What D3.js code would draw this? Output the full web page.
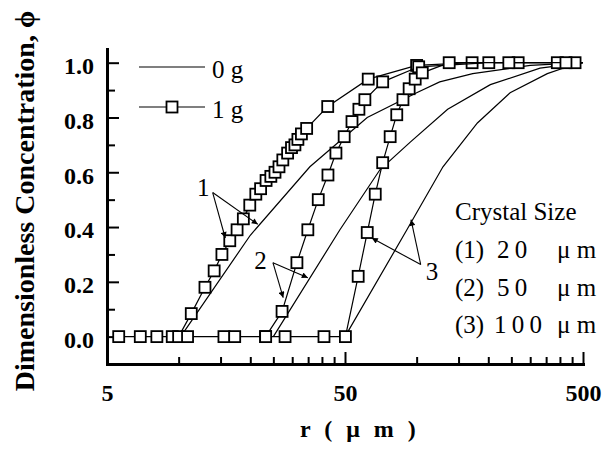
<!DOCTYPE html>
<html>
<head>
<meta charset="utf-8">
<script src="https://cdn.jsdelivr.net/npm/d3@7"></script>
<style>
  html, body { margin: 0; padding: 0; background: #fff; }
  svg { display: block; }
  text { font-family: "Liberation Serif", "Times New Roman", serif; fill: #000; }
</style>
</head>
<body>
<svg id="chart" width="605" height="455"></svg>
<script>
// Crystal radius r (μm) and dimensionless concentration φ, 1 g runs (markers)
const r1g_size1 = [5.6, 6.9, 8.1, 9.4, 10.0, 11.3, 12.9, 14.1, 15.2, 16.4, 17.6, 18.7, 19.9, 21.1, 22.1, 23.3, 24.4, 25.4, 26.4, 27.4, 28.7, 29.8, 30.8, 31.7, 32.8, 34.5, 42.3, 62.6, 100, 171, 267, 463];
const phi1g_size1 = [0, 0, 0, 0, 0, 0.084, 0.18, 0.24, 0.30, 0.35, 0.39, 0.43, 0.48, 0.52, 0.54, 0.57, 0.585, 0.60, 0.62, 0.645, 0.67, 0.69, 0.70, 0.72, 0.74, 0.76, 0.84, 0.94, 0.99, 1.0, 1.0, 1.0];

const r1g_size2 = [10.9, 15.5, 17.2, 23.2, 27.2, 31.4, 34.9, 38.6, 42.4, 45.8, 49.6, 53.5, 57.2, 60.6, 72, 102, 201, 390];
const phi1g_size2 = [0, 0, 0, 0, 0.092, 0.27, 0.39, 0.50, 0.59, 0.67, 0.73, 0.785, 0.83, 0.865, 0.93, 0.985, 1.0, 1.0];

const r1g_size3 = [23.2, 28, 40.8, 50.2, 56.8, 62, 67, 72, 77.4, 82.5, 87.6, 93, 98.6, 105.6, 137, 244, 424];
const phi1g_size3 = [0, 0, 0, 0, 0.22, 0.38, 0.52, 0.635, 0.73, 0.81, 0.865, 0.905, 0.94, 0.963, 1.0, 1.0, 1.0];

// 0 g runs (plain lines)
const r0g_size1 = [10.2, 20, 35.6, 62, 100, 125, 172, 300, 500];
const phi0g_size1 = [0, 0.37, 0.62, 0.80, 0.89, 0.93, 0.96, 0.99, 1.0];
const r0g_size2 = [25, 47.6, 70.2, 94, 135, 204, 330, 500];
const phi0g_size2 = [0, 0.39, 0.61, 0.71, 0.83, 0.92, 0.98, 1.0];
const r0g_size3 = [50, 91, 129, 180, 247, 354, 430, 500];
const phi0g_size3 = [0, 0.39, 0.62, 0.78, 0.89, 0.96, 0.985, 1.0];

// Axis ticks
const xMajorTicks = [5, 50, 500];
const xMinorTicks = [10, 15, 20, 25, 30, 35, 40, 45, 100, 150, 200, 250, 300, 350, 400, 450];
const yMajorTicks = [0, 0.2, 0.4, 0.6, 0.8, 1.0];
const yMinorTicks = [0.1, 0.3, 0.5, 0.7, 0.9];

// Legend / notes text
const legendLabels = ["0 g", "1 g"];
const sizeTitle = "Crystal Size";
const sizeIds = ["(1)", "(2)", "(3)"];
const sizeValues = ["2 0", "5 0", "1 0 0"];
const sizeUnit = "μ m";

// Curve labels with arrow origins and tips in data units [r, φ]
const curveLabels = ["1", "2", "3"];
const labelPos = [[12.7, 0.515], [22.1, 0.248], [116, 0.208]];
const arrowFrom = [[13.9, 0.526], [24.9, 0.27], [104, 0.263]];
const arrowTips = [
  [[15.7, 0.36], [21.5, 0.41]],
  [[27.5, 0.142], [34.9, 0.215]],
  [[64.8, 0.36], [94.7, 0.427]]
];

const svg = d3.select("#chart");
const x = d3.scaleLog().domain([5, 500]).range([107, 583]);
const y = d3.scaleLinear().domain([-0.1, 1.05]).range([364, 49]);

const line = d3.line().x(d => x(d[0])).y(d => y(d[1]));
const zip = (a, b) => a.map((v, i) => [v, b[i]]);

const series1g = [zip(r1g_size1, phi1g_size1), zip(r1g_size2, phi1g_size2), zip(r1g_size3, phi1g_size3)];
const series0g = [zip(r0g_size1, phi0g_size1), zip(r0g_size2, phi0g_size2), zip(r0g_size3, phi0g_size3)];

// Axes
const tickFont = "bold 24px 'Liberation Serif', serif";
const gx = svg.append("g").attr("transform", "translate(0,364)");
gx.call(d3.axisBottom(x).tickValues(xMajorTicks).tickFormat(d3.format("d"))
  .tickSizeInner(-12).tickSizeOuter(0).tickPadding(20));
const gxMinor = svg.append("g").attr("transform", "translate(0,364)");
gxMinor.call(d3.axisBottom(x).tickValues(xMinorTicks).tickFormat("")
  .tickSizeInner(-7).tickSizeOuter(0));
gxMinor.select(".domain").remove();

const gy = svg.append("g").attr("transform", "translate(107,0)");
gy.call(d3.axisLeft(y).tickValues(yMajorTicks).tickFormat(d3.format(".1f"))
  .tickSizeInner(-12).tickSizeOuter(0).tickPadding(13));
const gyMinor = svg.append("g").attr("transform", "translate(107,0)");
gyMinor.call(d3.axisLeft(y).tickValues(yMinorTicks).tickFormat("")
  .tickSizeInner(-8).tickSizeOuter(0));
gyMinor.select(".domain").remove();

svg.selectAll(".domain").attr("stroke", "#000").attr("stroke-width", 3).attr("stroke-linecap", "square");
svg.selectAll(".tick line").attr("stroke", "#000").attr("stroke-width", 2);
svg.selectAll(".tick text").attr("font-family", null).attr("font-size", null)
  .style("font", tickFont).attr("fill", "#000");
gy.selectAll(".tick text").attr("dy", "0.45em");

// Axis titles
svg.append("text")
  .attr("transform", "translate(34,201) rotate(-90)")
  .attr("text-anchor", "middle")
  .style("font-weight", "bold").style("font-size", "28px")
  .text("Dimensionless Concentration, ϕ");

svg.append("text")
  .attr("x", 300).attr("y", 437)
  .style("font-weight", "bold").style("font-size", "24px")
  .style("word-spacing", "8px")
  .text("r ( μ m )");

// Curves: 0 g plain lines
svg.append("g").selectAll("path").data(series0g).join("path")
  .attr("d", line).attr("fill", "none").attr("stroke", "#000").attr("stroke-width", 1.2);

// Curves: 1 g lines with square markers
const msize = 11;
series1g.forEach(s => {
  const g = svg.append("g");
  g.append("path").attr("d", line(s)).attr("fill", "none").attr("stroke", "#000").attr("stroke-width", 1.2);
  g.selectAll("rect").data(s).join("rect")
    .attr("x", d => x(d[0]) - msize / 2).attr("y", d => y(d[1]) - msize / 2)
    .attr("width", msize).attr("height", msize)
    .attr("fill", "#fff").attr("stroke", "#000").attr("stroke-width", 1.8);
});

// Arrowhead marker
svg.append("defs").append("marker")
  .attr("id", "arrow").attr("viewBox", "0 0 10 10")
  .attr("refX", 10).attr("refY", 5)
  .attr("markerWidth", 8).attr("markerHeight", 6)
  .attr("markerUnits", "userSpaceOnUse")
  .attr("orient", "auto")
  .append("path").attr("d", "M0,0L10,5L0,10Z").attr("fill", "#000");

// Curve labels and pointer arrows
curveLabels.forEach((lab, i) => {
  svg.append("text")
    .attr("x", x(labelPos[i][0])).attr("y", y(labelPos[i][1]))
    .attr("text-anchor", "middle").style("font-size", "25px")
    .text(lab);
  arrowTips[i].forEach(t => {
    svg.append("line")
      .attr("x1", x(arrowFrom[i][0])).attr("y1", y(arrowFrom[i][1]))
      .attr("x2", x(t[0])).attr("y2", y(t[1]))
      .attr("stroke", "#000").attr("stroke-width", 1.1)
      .attr("marker-end", "url(#arrow)");
  });
});

// Legend
const legend = svg.append("g");
legendLabels.forEach((lab, i) => {
  const ly = 67 + i * 40;
  legend.append("line").attr("x1", 139).attr("x2", 205).attr("y1", ly).attr("y2", ly)
    .attr("stroke", "#000").attr("stroke-width", 1.2);
  if (i === 1) {
    legend.append("rect").attr("x", 172 - msize / 2).attr("y", ly - msize / 2)
      .attr("width", msize).attr("height", msize)
      .attr("fill", "#fff").attr("stroke", "#000").attr("stroke-width", 1.8);
  }
  legend.append("text").attr("x", 212).attr("y", ly + 11)
    .style("font-size", "25px").text(lab);
});

// Crystal size notes
const notes = svg.append("g");
notes.append("text").attr("x", 455).attr("y", 220).style("font-size", "25px").text(sizeTitle);
sizeIds.forEach((id, i) => {
  const by = 258 + i * 37.5;
  const t = notes.append("text").attr("y", by).style("font-size", "25px").attr("xml:space", "preserve");
  t.append("tspan").attr("x", 455).text(id);
  t.append("tspan").attr("x", i === 2 ? 494 : 497).style("word-spacing", "-1px").text(sizeValues[i]);
  t.append("tspan").attr("x", 557).text(sizeUnit);
});
</script>
</body>
</html>
